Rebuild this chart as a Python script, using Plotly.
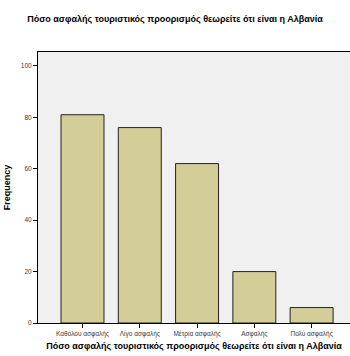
import plotly.graph_objects as go

categories = ["Καθόλου ασφαλής", "Λίγο ασφαλής", "Μέτρια ασφαλής", "Ασφαλής", "Πολύ ασφαλής"]
frequency = [81, 76, 62, 20, 6]
y_ticks = [0, 20, 40, 60, 80, 100]
title_text = "Πόσο ασφαλής τουριστικός προορισμός θεωρείτε ότι είναι η Αλβανία"

fig = go.Figure(go.Bar(
    x=list(range(len(categories))),
    y=frequency,
    width=0.75,
    marker=dict(color="#D3CE97", line=dict(color="#222222", width=1)),
))

fig.update_layout(
    width=350, height=356,
    margin=dict(l=38, r=0, t=52, b=33, autoexpand=False),
    paper_bgcolor="white",
    plot_bgcolor="#F0F0F0",
    showlegend=False,
    font=dict(family="Liberation Sans, Arial, sans-serif", color="#222"),
    title=dict(text="<b>" + title_text + "</b>", x=0.5, xanchor="center",
               y=1 - 19/356, yanchor="middle",
               font=dict(size=9, color="#000")),
)
fig.update_xaxes(
    automargin=False,
    range=[-0.777, 4.67],
    tickmode="array", tickvals=list(range(len(categories))), ticktext=categories,
    ticks="outside", ticklen=4, tickcolor="#000", tickwidth=1,
    tickfont=dict(size=6.5, color="#3a3a3a"),
    showline=True, linecolor="#000", linewidth=1, mirror=True,
    showgrid=False, zeroline=False,
    title=dict(text="<b>" + title_text + "</b>", font=dict(size=9, color="#000"), standoff=5),
)
fig.update_yaxes(
    automargin=False,
    range=[0, 105.4],
    tickmode="array", tickvals=y_ticks,
    ticks="outside", ticklen=4, tickcolor="#000", tickwidth=1,
    tickfont=dict(size=6.5, color="#3a3a3a"),
    showline=True, linecolor="#000", linewidth=1, mirror=False,
    showgrid=False, zeroline=False,
    title=dict(text="<b>Frequency</b>", font=dict(size=9, color="#000"), standoff=8),
)

fig.write_html("out.html", config={"displayModeBar": False},
               post_script="document.body.style.margin='0px';")
